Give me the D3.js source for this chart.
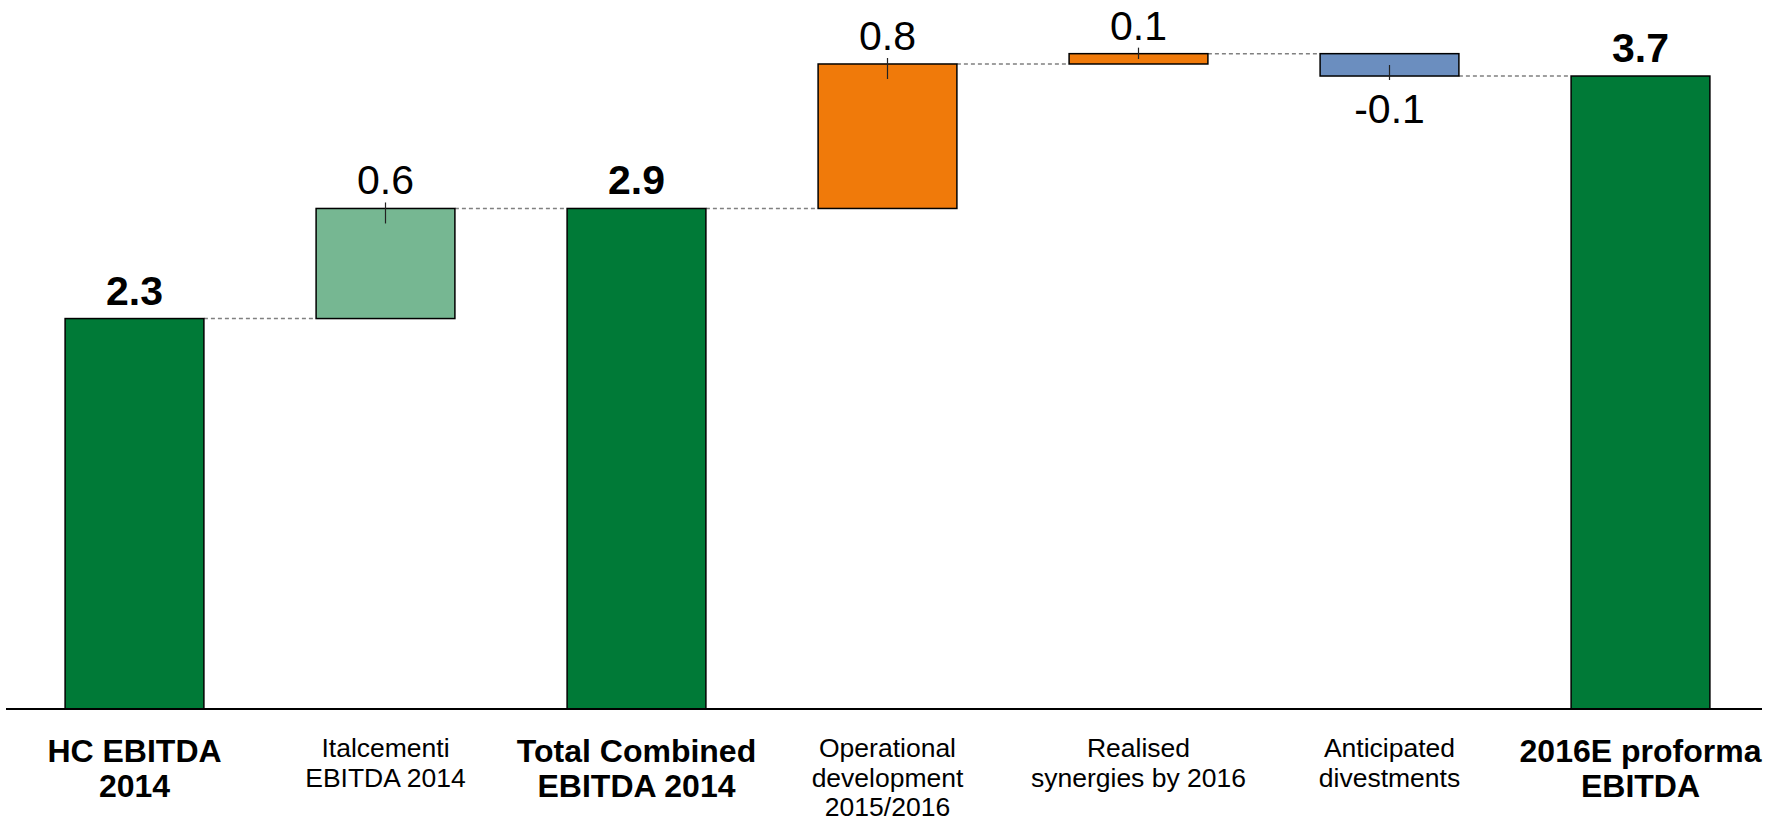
<!DOCTYPE html>
<meta charset="utf-8">
<script src="https://d3js.org/d3.v7.min.js"></script>
<style>
  body { margin: 0; background: #fff; }
  text { font-family: "Liberation Sans", Arial, sans-serif; fill: #000; }
</style>
<div id="chart"></div>
<script>
// Data
var categories = ["HC EBITDA 2014", "Italcementi EBITDA 2014", "Total Combined EBITDA 2014",
                  "Operational development 2015/2016", "Realised synergies by 2016",
                  "Anticipated divestments", "2016E proforma EBITDA"];
var labelLines = [["HC EBITDA", "2014"], ["Italcementi", "EBITDA 2014"], ["Total Combined", "EBITDA 2014"],
                  ["Operational", "development", "2015/2016"], ["Realised", "synergies by 2016"],
                  ["Anticipated", "divestments"], ["2016E proforma", "EBITDA"]];
var kinds = ["total", "delta", "total", "delta", "delta", "delta", "total"];
var values = [2.27, 0.64, 2.91, 0.84, 0.06, -0.13, 3.68];
var colors = ["#007a37", "#76b792", "#007a37", "#f07a0a", "#f07a0a", "#6b8ebf", "#007a37"];

var width = 1779, height = 822;
var baseY = 709;

var svg = d3.select("#chart").append("svg")
    .attr("width", width)
    .attr("height", height);

// start/end of each bar
var run = 0;
var bars = categories.map(function(c, i) {
  var d = {cat: c, i: i, kind: kinds[i], value: values[i], color: colors[i], lines: labelLines[i]};
  if (d.kind == "total") { d.start = 0; d.end = values[i]; run = values[i]; }
  else { d.start = run; d.end = run + values[i]; run = d.end; }
  return d;
});

var x = d3.scaleBand()
    .domain(categories)
    .range([9, 1766])
    .paddingInner(0.447)
    .paddingOuter(0.2235);

var y = d3.scaleLinear()
    .domain([0, 4.122])
    .range([baseY, 0]);

// plain hyphen for negatives, like the original
var fmt = function(v) { return d3.format(".1f")(v).replace("\u2212", "-"); };

// connectors
svg.append("g").selectAll("line")
  .data(bars.slice(0, -1))
  .enter().append("line")
  .attr("x1", function(d) { return x(d.cat) + x.bandwidth(); })
  .attr("x2", function(d) { return x(categories[d.i + 1]); })
  .attr("y1", function(d) { return y(d.end); })
  .attr("y2", function(d) { return y(d.end); })
  .attr("stroke", "#808080")
  .attr("stroke-width", 1.5)
  .attr("stroke-dasharray", "4,3");

// bars
svg.append("g").selectAll("rect")
  .data(bars)
  .enter().append("rect")
  .attr("x", function(d) { return x(d.cat); })
  .attr("width", x.bandwidth())
  .attr("y", function(d) { return y(Math.max(d.start, d.end)); })
  .attr("height", function(d) { return Math.abs(y(d.start) - y(d.end)); })
  .attr("fill", function(d) { return d.color; })
  .attr("stroke", "#000")
  .attr("stroke-width", 1.5);

// small ticks on delta bars
svg.append("g").selectAll("line")
  .data(bars.filter(function(d) { return d.kind == "delta"; }))
  .enter().append("line")
  .attr("x1", function(d) { return x(d.cat) + x.bandwidth() / 2; })
  .attr("x2", function(d) { return x(d.cat) + x.bandwidth() / 2; })
  .attr("y1", function(d) { return d.value > 0 ? y(d.end) - 6 : y(d.end) + 4; })
  .attr("y2", function(d) {
    var h = Math.abs(y(d.start) - y(d.end));
    return d.value > 0 ? y(d.end) + Math.min(15, h - 5) : y(d.end) - Math.min(11, h - 5);
  })
  .attr("stroke", "#222")
  .attr("stroke-width", 1.2);

// value labels
svg.append("g").selectAll("text")
  .data(bars)
  .enter().append("text")
  .attr("x", function(d) { return x(d.cat) + x.bandwidth() / 2; })
  .attr("y", function(d) { return d.value >= 0 ? y(d.end) - 14 : y(d.end) + 47; })
  .attr("text-anchor", "middle")
  .style("font-size", "41px")
  .style("font-weight", function(d) { return d.kind == "total" ? "bold" : "normal"; })
  .text(function(d) { return fmt(d.value); });

// x axis line
svg.append("line")
  .attr("x1", 6).attr("x2", 1762)
  .attr("y1", baseY).attr("y2", baseY)
  .attr("stroke", "#000")
  .attr("stroke-width", 2);

// category labels
var lab = svg.append("g").selectAll("text")
  .data(bars)
  .enter().append("text")
  .attr("text-anchor", "middle")
  .style("font-size", function(d) { return d.kind == "total" ? "32px" : "26.5px"; })
  .style("font-weight", function(d) { return d.kind == "total" ? "bold" : "normal"; })
  .attr("transform", function(d) {
    var top = d.kind == "total" ? 762 : 757;
    return "translate(" + (x(d.cat) + x.bandwidth() / 2) + "," + top + ")";
  });

lab.selectAll("tspan")
  .data(function(d) { return d.lines.map(function(l) { return {t: l, kind: d.kind}; }); })
  .enter().append("tspan")
  .attr("x", 0)
  .attr("y", function(l, j) { return j * (l.kind == "total" ? 35 : 29.5); })
  .text(function(l) { return l.t; });
</script>
